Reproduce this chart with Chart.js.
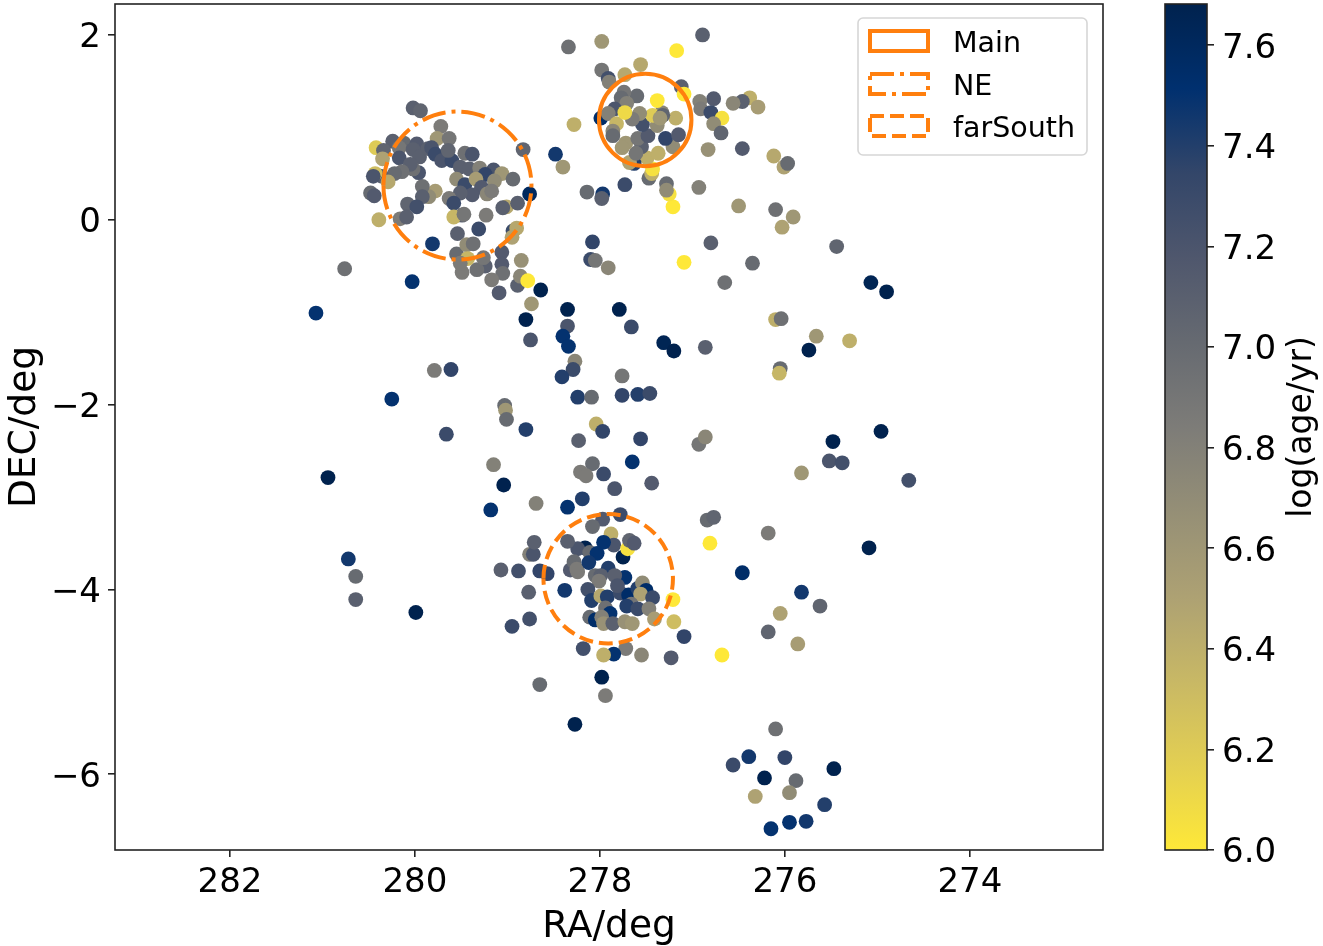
<!DOCTYPE html>
<html><head><meta charset="utf-8">
<style>html,body{margin:0;padding:0;background:#fff;overflow:hidden}canvas{position:absolute;top:0;display:block}</style>
<script src="https://cdn.jsdelivr.net/npm/chart.js@4"></script>
</head><body>
<canvas id="main" width="1150" height="946" style="left:0"></canvas>
<canvas id="bar" width="173" height="946" style="left:1150px"></canvas>
<script>
const ra = [
278.34,277.98,276.89,277.17,277.56,277.98,277.91,277.90,277.73,277.12,277.09,276.38,276.29,276.46,276.56,276.77,276.92,276.91,276.80,276.68,276.77,276.69,277.99,278.28,278.48,278.40,276.46,276.83,276.12,276.01,275.97,276.10,276.50,276.93,277.21,277.25,277.28,277.28,277.73,277.97,277.98,278.14,277.47,277.44,277.43,277.49,277.37,277.63,277.68,277.21,277.29,277.15,277.55,277.61,277.72,277.76,277.59,277.48,277.54,277.38,277.18,277.33,277.38,277.43,277.60,277.74,277.77,277.71,277.84,277.91,277.82,277.86,277.86,277.57,277.65,277.32,277.35,277.73,
277.09,276.80,276.35,276.65,275.44,275.91,276.03,276.10,276.04,275.66,275.30,275.07,274.90,275.74,276.86,277.31,277.20,276.05,276.06,277.66,277.79,278.35,278.80,278.75,278.35,278.40,278.34,278.27,278.29,278.41,278.08,278.10,278.05,277.91,281.07,280.76,280.03,280.25,279.79,279.61,279.66,280.94,279.03,279.02,279.01,278.80,277.76,278.24,278.09,277.59,277.46,277.76,278.04,277.97,277.56,278.23,278.08,278.21,278.15,277.96,277.65,277.44,277.84,276.93,276.86,275.82,275.48,275.52,275.38,274.96,274.66,279.15,279.04,279.18,278.69,278.19,278.35,276.84,276.77,276.18,276.81,275.09,276.46,275.82,275.62,276.05,276.18,275.86,276.68,277.09,277.23,277.55,277.72,277.85,277.96,277.98,277.94,278.27,278.65,278.18,278.95,278.76,278.77,279.07,278.88,278.76,278.72,278.71,280.72,280.64,280.64,279.99,276.39,276.56,276.22,276.00,275.88,275.95,276.32,276.15,275.95,275.77,275.57,275.47,276.10,
277.78,277.97,278.08,277.88,277.85,277.96,278.16,278.24,278.35,278.65,278.57,278.38,278.32,278.24,278.28,278.25,278.11,278.03,278.12,277.91,277.75,277.70,277.68,277.63,277.73,277.84,278.05,277.99,278.01,278.13,278.09,277.99,277.92,277.78,277.69,277.59,277.54,277.50,277.56,277.43,277.66,277.71,277.59,277.47,277.41,277.21,277.20,277.94,277.89,278.11,278.05,277.98,277.96,277.86,277.73,277.65,277.81,
280.02,279.94,279.72,279.76,279.63,280.24,280.12,280.42,280.34,280.17,280.35,280.17,279.98,280.02,279.95,279.86,279.82,279.78,279.71,279.60,279.64,279.46,279.38,279.51,279.41,279.30,279.15,279.24,279.06,278.94,278.83,279.55,279.46,279.34,279.14,279.28,279.22,279.17,279.38,279.51,279.63,279.58,279.78,279.85,279.92,279.92,280.08,279.98,279.96,280.02,280.05,280.14,280.22,280.36,280.43,280.45,280.29,280.48,280.44,280.39,280.16,280.09,279.81,279.31,279.54,279.23,279.49,279.58,279.47,279.01,278.89,279.05,278.76,278.94,278.90,278.95,279.06,279.06,278.85,279.05,279.17,278.89,278.86,278.78,278.64,278.74,279.09,279.24,279.33,279.49,279.55,279.44,279.37,279.43,279.26,279.51
];
const dec = [
1.87,1.93,2.00,1.83,1.68,1.62,1.53,1.49,1.57,1.44,1.36,1.32,1.22,1.28,1.26,1.31,1.28,1.20,1.16,1.10,1.04,0.94,1.10,1.03,0.71,0.57,0.77,0.76,0.69,0.57,0.61,0.11,0.15,0.35,0.14,0.28,0.39,0.32,0.38,0.28,0.23,0.30,0.45,0.50,0.55,0.67,0.72,0.61,0.62,0.79,0.88,0.92,0.79,0.72,0.83,0.78,0.88,0.91,1.03,1.02,1.10,1.16,1.29,1.13,1.34,1.38,1.32,1.26,1.20,1.15,1.04,0.96,0.91,1.15,1.09,1.13,1.10,1.16,
-0.46,-0.25,-0.47,-0.68,-0.29,0.03,-0.08,-1.08,-1.07,-1.26,-1.31,-0.68,-0.78,-1.41,-1.38,-1.33,-1.42,-1.61,-1.66,-1.16,-0.97,-0.97,-1.08,-1.30,-1.15,-1.26,-1.37,-1.53,-1.62,-1.70,-0.24,-0.43,-0.44,-0.52,-1.01,-0.53,-0.67,-1.94,-1.63,-1.62,-2.32,-2.79,-2.01,-2.06,-2.16,-2.27,-1.69,-1.92,-1.92,-1.89,-1.88,-1.90,-2.21,-2.29,-2.37,-2.39,-2.64,-2.73,-2.77,-2.75,-2.62,-2.85,-2.91,-2.43,-2.35,-2.74,-2.40,-2.61,-2.63,-2.29,-2.82,-2.65,-2.87,-3.14,-3.07,-3.02,-3.11,-3.25,-3.22,-3.39,-3.50,-3.55,-3.82,-4.03,-4.18,-4.26,-4.46,-4.59,-4.71,-4.51,-4.74,-4.71,-4.64,-4.70,-4.71,-4.95,-5.15,-5.46,-5.03,-4.64,-4.40,-4.32,-4.03,-3.79,-3.80,-3.62,-3.62,-3.49,-3.67,-3.86,-4.11,-4.25,-5.81,-5.90,-6.04,-5.82,-6.07,-6.20,-6.24,-6.59,-6.52,-6.51,-6.33,-5.94,-5.51,
-3.19,-3.24,-3.32,-3.40,-3.52,-3.49,-3.55,-3.56,-3.48,-3.80,-3.83,-4.01,-3.79,-3.81,-3.70,-3.78,-3.60,-3.61,-3.71,-3.77,-3.65,-3.56,-3.47,-3.50,-3.87,-3.85,-3.85,-3.85,-3.91,-4.00,-4.12,-4.07,-4.08,-4.04,-4.06,-3.99,-3.93,-4.01,-4.05,-4.09,-4.16,-4.18,-4.21,-4.21,-4.32,-4.11,-4.35,-4.20,-4.26,-4.30,-4.33,-4.30,-4.37,-4.37,-4.35,-4.37,-3.96,
1.21,1.18,1.01,0.88,0.88,0.85,0.83,0.78,0.75,0.78,0.66,0.67,0.82,0.76,0.68,0.77,0.78,0.71,0.64,0.64,0.75,0.72,0.71,0.57,0.55,0.56,0.54,0.49,0.50,0.44,0.76,0.44,0.38,0.44,0.42,0.35,0.28,0.31,0.27,0.29,0.23,0.18,0.31,0.25,0.36,0.25,0.17,0.14,0.51,0.55,0.60,0.52,0.50,0.47,0.50,0.47,0.41,0.29,0.26,0.00,0.01,0.03,-0.26,-0.10,-0.15,0.05,0.05,0.03,0.06,0.14,0.18,0.13,0.28,-0.12,-0.09,-0.19,-0.35,-0.48,-0.44,-0.58,-0.65,-0.71,-0.61,-0.66,-0.76,-0.91,-0.79,-0.50,-0.54,-0.57,-0.37,-0.27,-0.26,-0.42,-0.41,-0.47
];
const logAge = [
6.95,6.6,7.1,6.0,6.45,6.9,7.25,6.8,6.45,7.1,6.0,6.4,6.55,7.1,6.75,7.15,6.8,6.85,7.3,6.05,6.7,7.05,7.55,6.4,7.45,6.6,7.15,6.65,6.45,6.5,7.0,6.95,6.6,6.8,6.0,6.05,7.0,6.7,7.3,7.45,7.1,7.0,7.0,6.4,6.05,6.4,6.4,7.4,6.5,6.7,7.35,7.15,7.1,6.9,6.6,6.6,6.9,7.15,7.25,6.7,6.4,6.75,6.0,6.2,7.0,6.9,7.0,6.8,7.2,6.8,6.35,6.75,7.0,6.7,6.85,7.05,6.6,6.1,
6.0,7.1,7.0,6.95,7.05,6.6,6.5,6.4,6.95,6.6,6.4,7.65,7.68,7.68,7.1,7.65,7.68,7.0,6.35,7.3,7.68,7.68,7.68,7.2,7.2,7.5,7.5,6.75,7.3,7.4,7.35,7.3,6.9,6.75,7.5,6.95,7.5,7.5,6.85,7.35,7.3,7.68,7.0,6.6,7.0,7.4,6.9,7.4,7.0,7.4,7.3,7.35,6.4,7.35,7.35,7.1,7.0,6.85,6.85,7.3,7.5,7.15,7.2,6.9,6.75,6.6,7.68,7.2,7.25,7.68,7.25,6.8,7.68,7.5,6.8,7.4,7.5,7.0,7.05,6.85,6.0,7.68,7.55,7.45,7.05,6.5,7.05,6.55,6.0,7.35,7.15,6.75,6.85,7.5,6.4,7.68,6.85,7.68,7.0,7.25,7.3,7.25,7.1,7.1,7.25,6.8,7.2,7.1,7.45,7.0,7.1,7.68,7.45,7.3,7.68,7.35,7.0,6.7,6.5,7.5,7.5,7.45,7.4,7.68,6.95,
7.3,7.15,7.0,6.4,7.2,7.5,7.68,7.2,7.1,7.35,7.35,7.45,7.15,6.85,7.0,6.85,7.0,7.5,7.45,7.4,7.68,6.05,7.05,7.15,7.5,7.1,7.0,7.1,6.85,7.25,7.4,6.45,7.4,7.3,7.55,7.4,6.7,7.55,6.5,7.3,6.9,7.4,7.3,6.8,6.55,6.0,6.3,6.95,7.5,7.0,7.55,6.8,6.65,7.1,6.65,6.6,7.2,
7.1,7.05,6.85,6.6,6.9,7.1,7.0,6.2,7.05,6.9,6.5,7.2,7.15,7.1,7.1,7.1,7.2,7.3,7.2,7.3,7.05,6.95,7.2,7.1,7.1,6.8,7.2,7.35,6.6,7.0,7.05,6.7,7.3,6.55,6.7,7.15,6.75,6.85,7.15,7.1,6.85,7.3,6.55,6.7,6.95,7.1,7.05,7.25,7.2,6.95,7.1,6.95,7.0,7.1,6.3,7.2,6.45,7.0,7.15,6.4,6.85,7.1,7.45,7.3,7.1,6.85,7.1,6.35,6.9,6.45,7.1,7.1,7.6,7.3,6.45,6.5,7.15,7.15,6.65,6.95,6.85,7.1,6.75,6.0,7.68,6.6,7.15,7.1,6.95,6.85,7.0,6.7,6.95,6.35,6.9,6.85
];
const xTickValues = [282,280,278,276,274];
const yTickValues = [2,0,-2,-4,-6];
const barTickValues = [6.0,6.2,6.4,6.6,6.8,7.0,7.2,7.4,7.6];
const regionNames = ['Main','NE','farSouth'];
const regionRA = [277.51,279.54,277.91];
const regionDec = [1.08,0.37,-3.885];
const regionRadius = [0.5,0.8,0.7];
const regionDash = [[],[24,6,4,6],[14,6]];
const ageMin = 6.0, ageMax = 7.682;
const cividisStops = ['#00224e','#00306f','#334669','#4f576d','#666a71','#7d7c78','#958f76','#ada173','#c8b865','#e3cf52','#fee838'];

function hexRGB(h){return [1,3,5].map(i=>parseInt(h.substr(i,2),16));}
function colorFor(v){
  let t=(ageMax-v)/(ageMax-ageMin); t=Math.max(0,Math.min(1,t));
  const p=t*(cividisStops.length-1), i=Math.min(Math.floor(p),cividisStops.length-2), f=p-i;
  const a=hexRGB(cividisStops[i]), b=hexRGB(cividisStops[i+1]);
  return 'rgb('+a.map((c,k)=>Math.round(c+(b[k]-c)*f)).join(',')+')';
}
const points = ra.map((r,i)=>({x:r,y:dec[i]}));
const TXT='#000', AX='#222';
const minusFmt = v => String(v).replace('-','\u2212');
function noPad(s){s.paddingTop=0;s.paddingBottom=0;s.paddingLeft=0;s.paddingRight=0;}
// Chart.js centres on the em box, the reference centres on the digit height
const nudgeLabels = {
  id:'nudgeLabels',
  beforeDraw(c){
    Object.values(c.scales).forEach(s=>{
      if(s.axis==='y' && s.options.display!==false){
        s.getLabelItems(c.chartArea).forEach(it=>{it.textOffset=(it.textOffset||0)+3.5;});
      }
    });
  }
};

const overlay = {
  id:'overlay',
  afterDatasetsDraw(c){
    const g=c.ctx,X=c.scales.x,Y=c.scales.y,A=c.chartArea;
    g.save();
    g.strokeStyle='#ff7f0e'; g.lineWidth=4;
    regionNames.forEach((n,i)=>{
      const cx=X.getPixelForValue(regionRA[i]),cy=Y.getPixelForValue(regionDec[i]);
      const r=Math.abs(X.getPixelForValue(regionRA[i]+regionRadius[i])-cx);
      g.setLineDash(regionDash[i]);
      g.beginPath(); g.arc(cx,cy,r,Math.PI,3*Math.PI); g.stroke();
    });
    g.setLineDash([]);
    g.strokeStyle=AX; g.lineWidth=1.6;
    g.strokeRect(A.left,A.top,A.right-A.left,A.bottom-A.top);
    // legend
    g.beginPath(); g.roundRect(858,18,229,137,5);
    g.fillStyle='rgba(255,255,255,0.8)'; g.fill();
    g.strokeStyle='#d6d6d6'; g.lineWidth=1.6; g.stroke();
    const tops=[31,74,116], bases=[52,95,137];
    g.font='28.5px "DejaVu Sans"'; g.textBaseline='alphabetic'; g.textAlign='left';
    regionNames.forEach((n,i)=>{
      g.strokeStyle='#ff7f0e'; g.lineWidth=4; g.setLineDash(regionDash[i]);
      g.strokeRect(870,tops[i],58,20);
      g.setLineDash([]);
      g.fillStyle=TXT; g.fillText(n,953,bases[i]);
    });
    g.restore();
  }
};
new Chart(document.getElementById('main'),{
  type:'scatter',
  data:{datasets:[{label:'stars',data:points,showLine:false,pointRadius:7.4,pointHoverRadius:7.4,pointBorderWidth:0,
    pointBackgroundColor:logAge.map(colorFor)}]},
  plugins:[overlay,nudgeLabels],
  options:{responsive:false,animation:false,devicePixelRatio:1,
    layout:{autoPadding:false,padding:{left:0,right:47,top:4,bottom:0}},
    plugins:{legend:{display:false},tooltip:{enabled:false}},
    scales:{
      x:{type:'linear',reverse:true,min:272.56,max:283.243,
        afterFit(s){s.height=96;noPad(s);},
        afterBuildTicks(s){s.ticks=xTickValues.map(v=>({value:v}));},
        grid:{drawOnChartArea:false,drawTicks:true,tickLength:7,tickColor:AX,lineWidth:1.6},
        border:{display:false},
        ticks:{font:{family:'DejaVu Sans',size:34},color:TXT,padding:6,maxRotation:0,callback:minusFmt},
        title:{display:true,text:'RA/deg',font:{family:'DejaVu Sans',size:37.5,lineHeight:1},color:TXT,padding:{top:7,bottom:0}}},
      y:{type:'linear',min:-6.82,max:2.335,
        afterFit(s){s.width=115;noPad(s);},
        afterBuildTicks(s){s.ticks=yTickValues.map(v=>({value:v}));},
        grid:{drawOnChartArea:false,drawTicks:true,tickLength:7,tickColor:AX,lineWidth:1.6},
        border:{display:false},
        ticks:{font:{family:'DejaVu Sans',size:34},color:TXT,padding:7,callback:minusFmt},
        title:{display:true,text:'DEC/deg',font:{family:'DejaVu Sans',size:37.5,lineHeight:1},color:TXT,padding:{top:7,bottom:0}}}
    }}
});

const barCanvas=document.getElementById('bar');
const grad=barCanvas.getContext('2d').createLinearGradient(0,4,0,850);
cividisStops.forEach((c,i)=>grad.addColorStop(i/(cividisStops.length-1),c));
const barOverlay={
  id:'barOverlay',
  afterDraw(c){
    const g=c.ctx,A=c.chartArea;
    g.save();
    g.strokeStyle=AX; g.lineWidth=1.6;
    g.strokeRect(A.left,A.top,A.right-A.left,A.bottom-A.top);
    g.translate(152,(A.top+A.bottom)/2);
    g.rotate(-Math.PI/2);
    g.font='33px "DejaVu Sans"'; g.fillStyle=TXT; g.textAlign='center'; g.textBaseline='middle';
    g.fillText('log(age/yr)',0,0);
    g.restore();
  }
};
new Chart(barCanvas,{
  type:'bar',
  data:{labels:['log(age/yr)'],datasets:[{data:[[ageMin,ageMax]],backgroundColor:grad,barPercentage:1,categoryPercentage:1,borderWidth:0}]},
  plugins:[barOverlay,nudgeLabels],
  options:{responsive:false,animation:false,devicePixelRatio:1,
    layout:{autoPadding:false,padding:{left:15,right:0,top:4,bottom:96}},
    plugins:{legend:{display:false},tooltip:{enabled:false}},
    scales:{
      x:{display:false},
      y:{position:'right',min:ageMin,max:ageMax,
        afterFit(s){s.width=116;noPad(s);},
        afterBuildTicks(s){s.ticks=barTickValues.map(v=>({value:v}));},
        grid:{drawOnChartArea:false,drawTicks:true,tickLength:7,tickColor:AX,lineWidth:1.6},
        border:{display:false},
        ticks:{font:{family:'DejaVu Sans',size:34},color:TXT,padding:8,callback:v=>v.toFixed(1)}}
    }}
});
</script>
</body></html>
